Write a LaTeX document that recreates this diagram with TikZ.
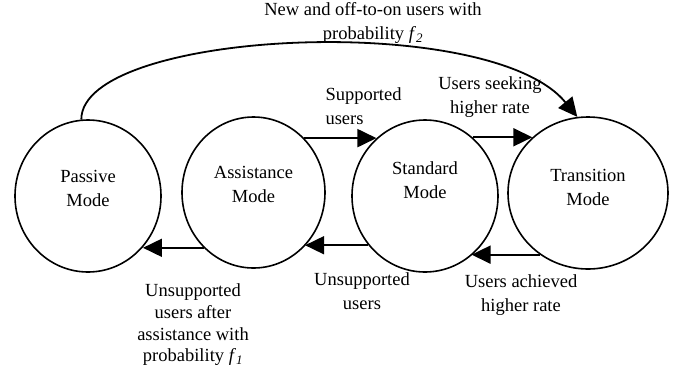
\documentclass[tikz,border=0pt]{standalone}
\usepackage{fontspec}
\setmainfont{Liberation Serif}
\usetikzlibrary{arrows.meta,shapes.geometric}

\begin{document}
\begin{tikzpicture}[x=1pt,y=-1pt,
font=\fontsize{18.5}{24}\selectfont,
mode/.style={ellipse, draw, line width=1.6pt, minimum width=146pt, minimum height=152pt, align=center, inner sep=0pt},
flow/.style={line width=1.8pt, -{Triangle[length=19pt,width=18pt]}},
lbl/.style={align=center}]

\useasboundingbox (0,0) rectangle (678,376);

\node[mode, text depth=16pt] (passive) at (88,196) {Passive\\Mode};
\node[mode, text depth=17pt, minimum width=143pt, minimum height=151pt] (assist) at (253.5,192.5) {Assistance\\Mode};
\node[mode, text depth=32pt] (std) at (425,196) {Standard\\Mode};
\node[mode, text depth=12pt, minimum width=160pt] (trans) at (588,193) {Transition\\Mode};

% forward
\draw[flow] (assist.47) -- (assist.47 -| std.130);
\draw[flow] (std.51) -- (std.51 -| trans.135);
% backward
\draw[flow] (trans.232) -- (trans.232 -| std.308);
\draw[flow] (std.221) -- (std.221 -| assist.314);
\draw[flow] (assist.228) -- (assist.228 -| passive.317);
% new users
\draw[flow] (passive.95) .. controls (81,30) and (490,10) .. (trans.98);

\node[lbl] (newusr) at (373,23) {New and off-to-on users with\\probability \textit{f}\textsubscript{\textit{2}}};
\node[lbl, align=left, anchor=west] (supp) at (322,106) {Supported\\users};
\node[lbl] (seek) at (490,97) {Users seeking\\higher rate};
\node[lbl, font=\fontsize{18.5}{21.7}\selectfont] (unsassist) at (193,325) {Unsupported\\users after\\assistance with\\probability \textit{f}\textsubscript{\textit{1}}};
\node[lbl] (unsupp) at (362,291) {Unsupported\\users};
\node[lbl] (achv) at (521,295) {Users achieved\\higher rate};
%
\end{tikzpicture}
\end{document}
